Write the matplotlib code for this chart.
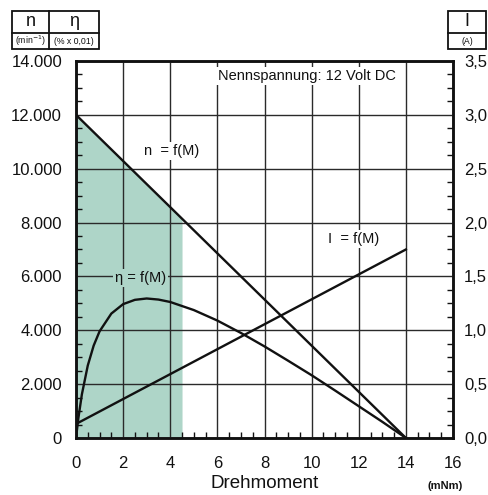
import matplotlib
matplotlib.use("Agg")
import matplotlib.pyplot as plt
from matplotlib.ticker import MultipleLocator, FuncFormatter
import numpy as np

plt.rcParams['font.family'] = ['Liberation Sans', 'DejaVu Sans']

# Data
torque_n = [0.0, 14.0]
speed_n = [12000, 0]

torque_i = [0.0, 14.0]
current_i = [0.13, 1.75]

torque_eta = [0.0, 0.1, 0.25, 0.5, 0.75, 1.0, 1.5, 2.0, 2.5, 3.0, 3.5, 4.0,
              5.0, 6.0, 7.0, 8.0, 9.0, 10.0, 11.0, 12.0, 13.0, 14.0]
eta = [0, 730, 1620, 2690, 3430, 3960, 4620, 4970, 5130, 5180, 5140, 5050,
       4750, 4360, 3900, 3400, 2870, 2330, 1760, 1180, 600, 0]

fill_end = 4.5

fig = plt.figure(figsize=(4.89, 4.95), dpi=100)
ax = fig.add_axes([0.1554, 0.1152, 0.7710, 0.7616])
ax.set_xlim(0, 16)
ax.set_ylim(0, 14000)

GREEN = '#aed5c8'
# green operating region under speed curve
fx = np.array([0.0, fill_end])
fy = np.interp(fx, torque_n, speed_n)
ax.fill_between(fx, 0, fy, color=GREEN, lw=0, zorder=1)

ax.grid(True, which='major', color='#2a2a2a', lw=1.0, zorder=2)
ax.set_axisbelow(False)

lw = 1.7
ax.plot(torque_n, speed_n, color='#111111', lw=lw, zorder=3)
ax.plot(torque_eta, eta, color='#111111', lw=lw, zorder=3)

ax2 = ax.twinx()
ax2.set_ylim(0, 3.5)
ax2.plot(torque_i, current_i, color='#111111', lw=lw, zorder=3)

ax.xaxis.set_major_locator(MultipleLocator(2))
ax.xaxis.set_minor_locator(MultipleLocator(0.5))
ax.yaxis.set_major_locator(MultipleLocator(2000))
ax.yaxis.set_minor_locator(MultipleLocator(500))
ax2.yaxis.set_major_locator(MultipleLocator(0.5))
ax2.yaxis.set_minor_locator(MultipleLocator(0.125))

ax.yaxis.set_major_formatter(FuncFormatter(lambda v, p: f"{int(v):,}".replace(',', '.')))
ax2.yaxis.set_major_formatter(FuncFormatter(lambda v, p: f"{v:.1f}".replace('.', ',')))

for a in (ax, ax2):
    a.tick_params(which='both', direction='in', labelsize=12, colors='#111111')
    a.tick_params(which='major', length=0, pad=6)
    a.tick_params(which='minor', length=4, width=1.0)
    for s in a.spines.values():
        s.set_linewidth(1.8)
        s.set_color('#111111')
ax.tick_params(axis='y', which='major', pad=10)
ax2.tick_params(axis='y', which='major', pad=8)
ax.tick_params(axis='x', which='major', pad=13)

ax.set_xlabel('Drehmoment', fontsize=13.5, color='#111111', labelpad=3)
fig.text(fx_ if False else 445 / 489, 1 - 491 / 495, '(mNm)', fontsize=8, fontweight='bold',
         color='#111111', ha='center', va='bottom')

txtkw = dict(fontsize=10.5, color='#111111', ha='center', va='center', zorder=5)
ax.text(9.8, 13440, 'Nennspannung: 12 Volt DC',
        bbox=dict(facecolor='white', edgecolor='none', pad=1.5), **txtkw)
ax.text(4.05, 10650, 'n  = f(M)',
        bbox=dict(facecolor='white', edgecolor='none', pad=1.5), **txtkw)
ax.text(11.8, 7400, 'I  = f(M)',
        bbox=dict(facecolor='white', edgecolor='none', pad=1.5), **txtkw)
ax.text(2.75, 5930, 'η = f(M)',
        bbox=dict(facecolor=GREEN, edgecolor='none', pad=1.5), **txtkw)

# unit header boxes
W, H = 489, 495
def fx_(px): return px / W
def fy_(py): return 1 - py / H

def box(x0, x1, y0, y1):
    r = plt.Rectangle((x0, y0), x1 - x0, y1 - y0, transform=fig.transFigure,
                      fill=False, edgecolor='#111111', lw=1.3)
    fig.add_artist(r)

def hline(x0, x1, y):
    fig.add_artist(plt.Line2D([fx_(x0), fx_(x1)], [fy_(y), fy_(y)],
                              transform=fig.transFigure, color='#111111', lw=1.3))

box(fx_(12), fx_(99), fy_(49), fy_(11))
hline(12, 99, 33)
fig.add_artist(plt.Line2D([fx_(49), fx_(49)], [fy_(49), fy_(11)],
                          transform=fig.transFigure, color='#111111', lw=1.3))
fig.text(fx_(30.5), fy_(22), 'n', fontsize=13, ha='center', va='center', color='#111111')
fig.text(fx_(74), fy_(22), 'η', fontsize=13, ha='center', va='center', color='#111111')
fig.text(fx_(30.5), fy_(41), '(min$^{-1}$)', fontsize=6.3, ha='center', va='center', color='#111111')
fig.text(fx_(74), fy_(41), '(% x 0,01)', fontsize=6.3, ha='center', va='center', color='#111111')

box(fx_(448), fx_(486), fy_(49), fy_(11))
hline(448, 486, 33)
fig.text(fx_(467), fy_(22), 'I', fontsize=13, ha='center', va='center', color='#111111')
fig.text(fx_(467), fy_(41), '(A)', fontsize=6.3, ha='center', va='center', color='#111111')

fig.savefig('out.png', dpi=100)
